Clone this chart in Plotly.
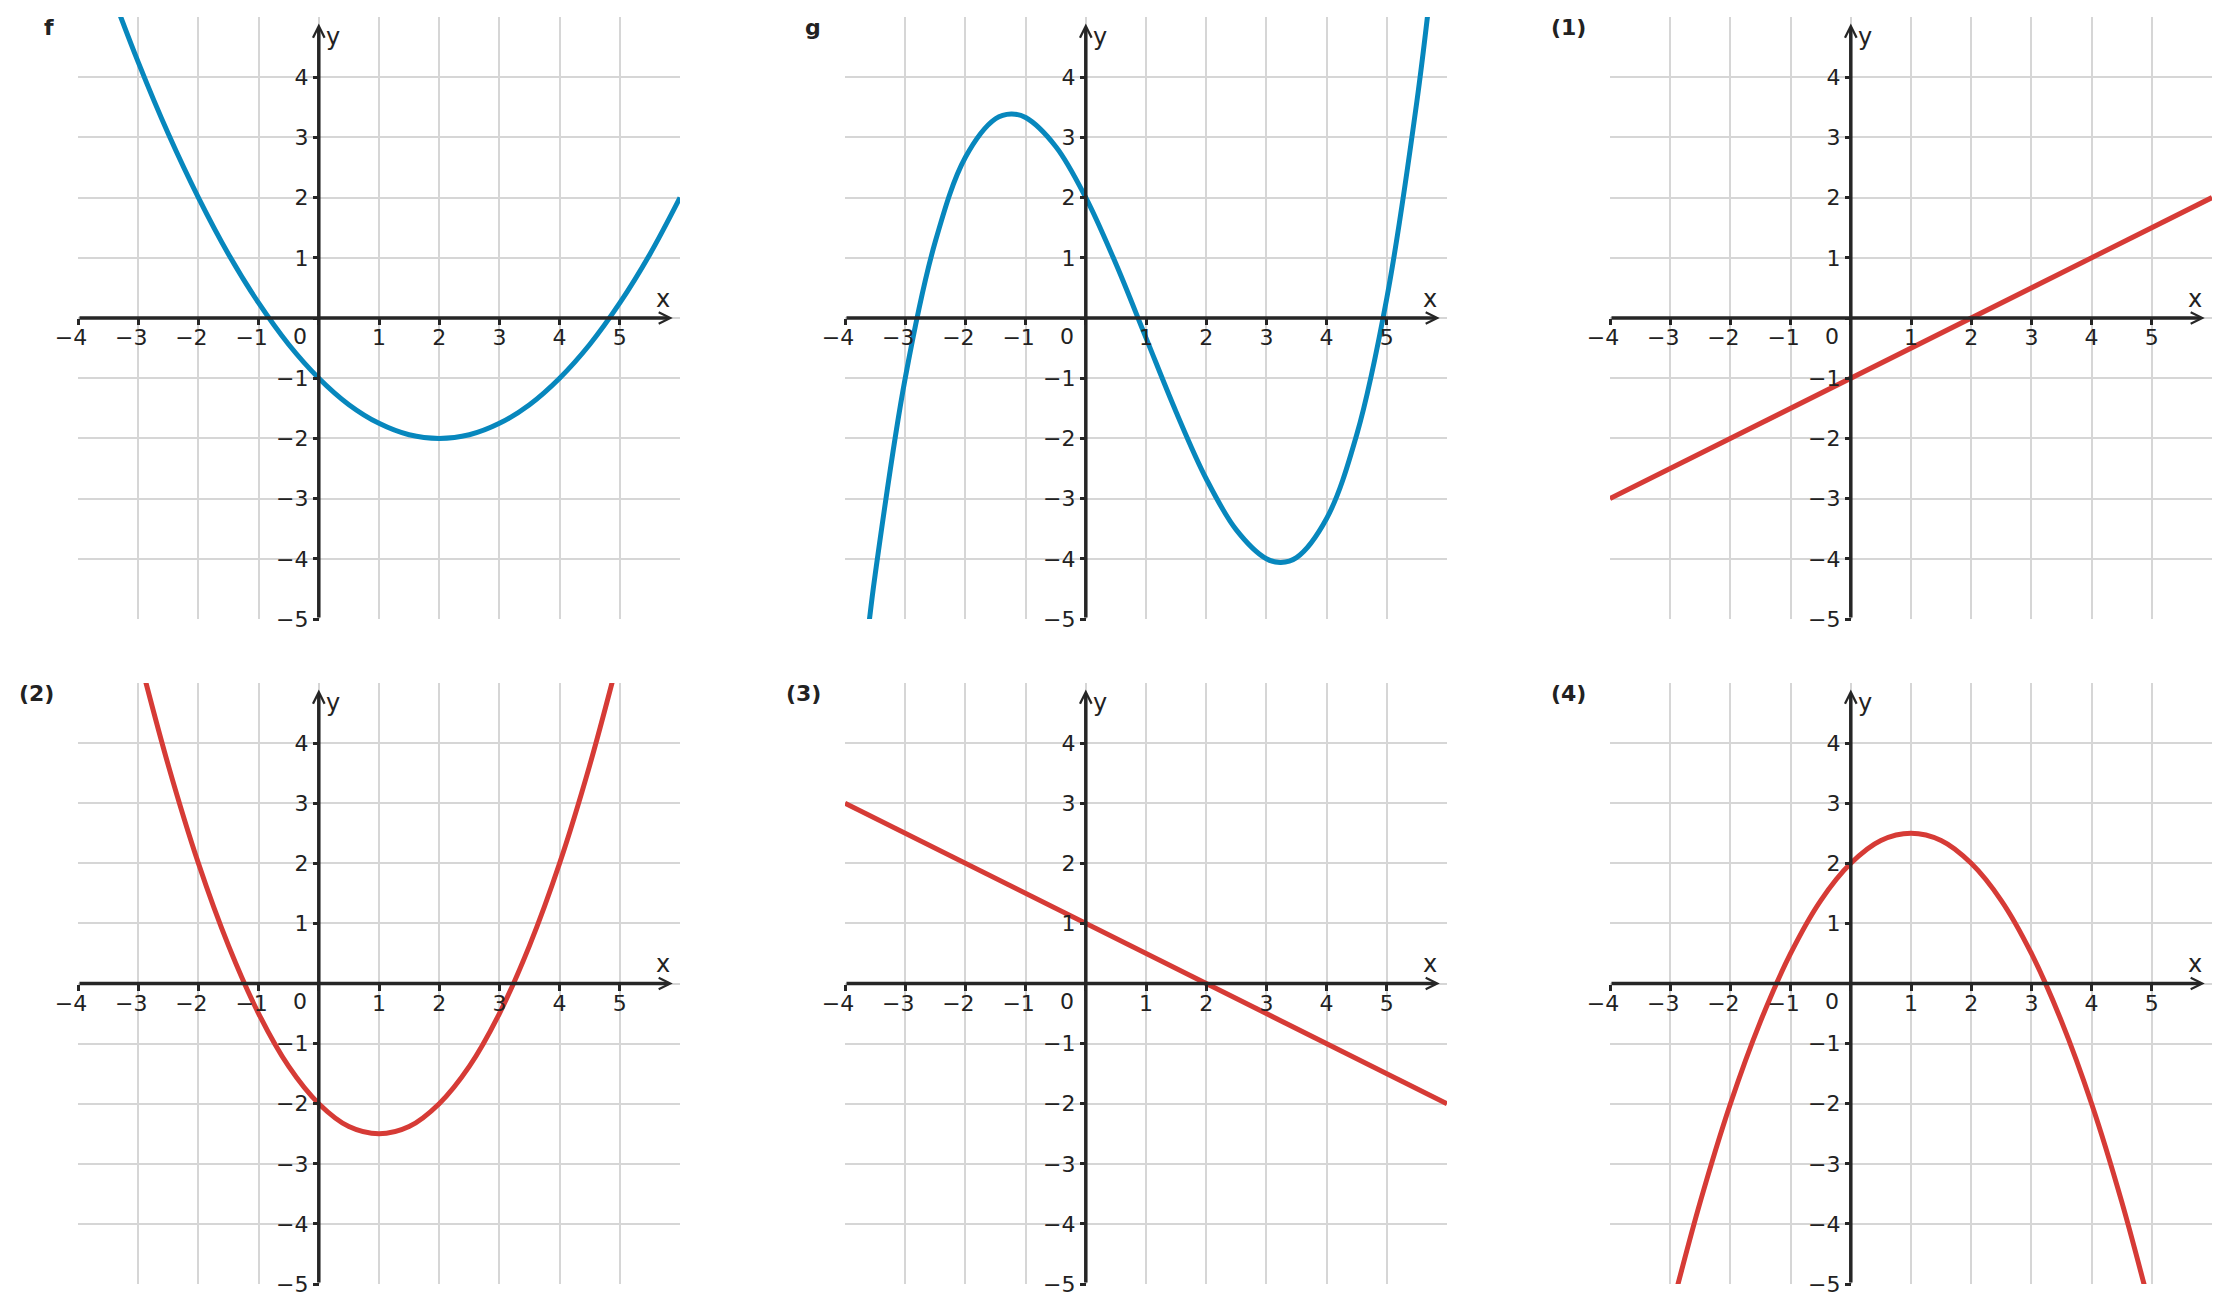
import plotly.graph_objects as go

# values
x_f = [-3.5, -3, -2.5, -2, -1.5, -1, -0.5, 0, 0.5, 1, 1.5, 2, 2.5, 3, 3.5, 4, 4.5, 5, 5.5, 6]
y_f = [5.56, 4.25, 3.06, 2.0, 1.06, 0.25, -0.44, -1.0, -1.44, -1.75, -1.94, -2.0,
       -1.94, -1.75, -1.44, -1.0, -0.44, 0.25, 1.06, 2.0]

x_g = [-3.6, -3.5, -3, -2.5, -2, -1.5, -1.24, -1, -0.5, 0, 0.5, 1, 1.5, 2, 2.5, 3,
       3.24, 3.5, 4, 4.5, 5, 5.5, 5.75]
y_g = [-5.06, -4.27, -1.0, 1.27, 2.67, 3.31, 3.39, 3.33, 2.85, 2.0, 0.9, -0.33,
       -1.56, -2.67, -3.52, -4.0, -4.06, -3.98, -3.33, -1.94, 0.33, 3.6, 5.66]

x_1 = [-4, 6]
y_1 = [-3, 2]

x_2 = [-3, -2.5, -2, -1.5, -1, -0.5, 0, 0.5, 1, 1.5, 2, 2.5, 3, 3.5, 4, 4.5, 5]
y_2 = [5.5, 3.63, 2.0, 0.63, -0.5, -1.38, -2.0, -2.38, -2.5, -2.38, -2.0, -1.38,
       -0.5, 0.63, 2.0, 3.63, 5.5]

x_3 = [-4, 6]
y_3 = [3, -2]

x_4 = [-3, -2.5, -2, -1.5, -1, -0.5, 0, 0.5, 1, 1.5, 2, 2.5, 3, 3.5, 4, 4.5, 5]
y_4 = [-5.5, -3.63, -2.0, -0.63, 0.5, 1.38, 2.0, 2.38, 2.5, 2.38, 2.0, 1.38,
       0.5, -0.63, -2.0, -3.63, -5.5]

labels = ["f", "g", "(1)", "(2)", "(3)", "(4)"]

x_ticks = [-4, -3, -2, -1, 0, 1, 2, 3, 4, 5]
x_ticktext = ["−4\u2007", "−3\u2007", "−2\u2007", "−1\u2007", "", "1", "2", "3", "4", "5"]
y_ticks = [-5, -4, -3, -2, -1, 0, 1, 2, 3, 4]
y_ticktext = ["−5", "−4", "−3", "−2", "−1", "", "1", "2", "3", "4"]

BLUE = "#0787bd"
RED = "#d63b36"
AXIS = "#262626"
GRID = "#d6d6d6"
W, H = 2230, 1313

# panel boxes in pixels (left, right) and (top, bottom)
cols = [(78, 680), (845, 1447), (1610, 2212)]
rows = [(17, 619), (683, 1284)]

panels = [
    (x_f, y_f, BLUE), (x_g, y_g, BLUE), (x_1, y_1, RED),
    (x_2, y_2, RED), (x_3, y_3, RED), (x_4, y_4, RED),
]

fig = go.Figure()
annotations = []

for i, (xs, ys, color) in enumerate(panels):
    n = i + 1
    xname = "x" if n == 1 else f"x{n}"
    yname = "y" if n == 1 else f"y{n}"
    c0, c1 = cols[i % 3]
    r0, r1 = rows[i // 3]
    xdom = [c0 / W, c1 / W]
    ydom = [1 - r1 / H, 1 - r0 / H]

    fig.add_trace(go.Scatter(x=xs, y=ys, mode="lines", xaxis=xname, yaxis=yname,
                             line=dict(color=color, width=5, shape="spline"),
                             showlegend=False, hoverinfo="skip"))

    common = dict(showgrid=True, gridcolor=GRID, gridwidth=2, zeroline=False,
                  showline=False, ticks="outside", ticklen=6, tickwidth=3,
                  tickcolor=AXIS, tickfont=dict(size=22, color="#222"),
                  anchor="free", fixedrange=True, automargin=False)
    fig.layout["xaxis" if n == 1 else f"xaxis{n}"] = dict(
        domain=xdom, range=[-4, 6], tickmode="array", tickvals=x_ticks,
        ticktext=x_ticktext, position=(ydom[0] + ydom[1]) / 2,
        ticklabelstandoff=-6, **common)
    fig.layout["yaxis" if n == 1 else f"yaxis{n}"] = dict(
        domain=ydom, range=[-5, 5], tickmode="array", tickvals=y_ticks,
        ticktext=y_ticktext, position=xdom[0] + 0.4 * (xdom[1] - xdom[0]), **common)

    arrow = dict(xref=xname, yref=yname, axref=xname, ayref=yname, text="",
                 showarrow=True, arrowhead=5, arrowsize=0.65, arrowwidth=3.5,
                 arrowcolor=AXIS, standoff=0, startstandoff=0)
    annotations.append(dict(x=5.88, y=0, ax=-4, ay=0, **arrow))
    annotations.append(dict(x=0, y=4.89, ax=0, ay=-5, **arrow))

    txt = dict(xref=xname, yref=yname, showarrow=False)
    annotations.append(dict(x=5.72, y=0.32, text="x", font=dict(size=24, color="#222"), **txt))
    annotations.append(dict(x=0.23, y=4.66, text="y", font=dict(size=24, color="#222"), **txt))
    annotations.append(dict(x=-0.31, y=-0.3, text="0", font=dict(size=22, color="#222"), **txt))

    annotations.append(dict(x=(c0 - 22) / W, y=ydom[1], xref="paper", yref="paper",
                            xanchor="right", yanchor="top", yshift=4, showarrow=False,
                            text=f"<b>{labels[i]}</b>",
                            font=dict(size=22, color="#222")))

fig.update_layout(
    width=W, height=H, autosize=False,
    margin=dict(l=0, r=0, t=0, b=0),
    paper_bgcolor="white", plot_bgcolor="white",
    font=dict(family="DejaVu Sans", color="#222"),
    annotations=annotations,
)

fig.write_html("out.html", post_script="document.body.style.margin='0';",
               config={"displayModeBar": False})
